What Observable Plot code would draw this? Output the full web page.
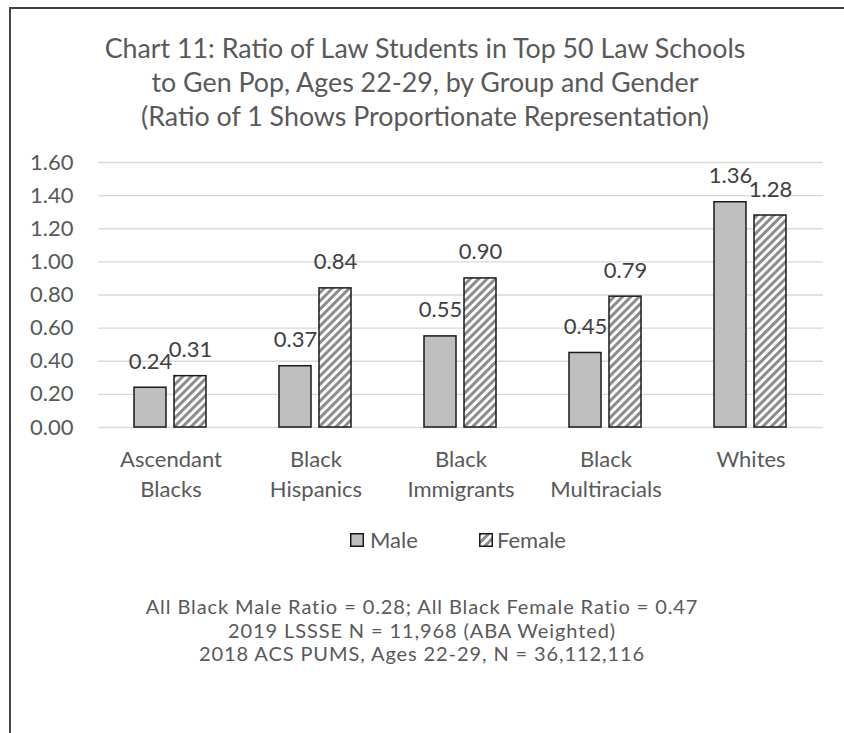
<!DOCTYPE html>
<html>
<head>
<meta charset="utf-8">
<script src="https://cdn.jsdelivr.net/npm/d3@7"></script>
<script src="https://cdn.jsdelivr.net/npm/@observablehq/plot@0.6"></script>
<style>
  html, body { margin: 0; padding: 0; background: #fff; }
  body { width: 844px; height: 733px; overflow: hidden; position: relative; font-family: Lato, "Open Sans", sans-serif; color: #595959; }
  #frame { position: absolute; left: 9px; top: 7px; width: 900px; height: 800px; border: 2px solid #444; box-sizing: border-box; }
  #title { position: absolute; left: 0; top: 30.5px; width: 850px; text-align: center; font-size: 26.8px; line-height: 34px; }
  #chart { position: absolute; left: 0; top: 140px; }
  .leg { position: absolute; font-size: 22px; line-height: 22px; }
  .sw { position: absolute; width: 14px; height: 14px; }
  #footer { position: absolute; left: 0; top: 595px; width: 844px; text-align: center; font-size: 20px; line-height: 23.5px; letter-spacing: 0.9px; }
</style>
</head>
<body>
<div id="frame"></div>
<div id="title">Chart 11: Ratio of Law Students in Top 50 Law Schools<br>to Gen Pop, Ages 22-29, by Group and Gender<br>(Ratio of 1 Shows Proportionate Representation)</div>
<div id="chart"></div>
<svg class="sw" style="left:350px;top:533px" viewBox="0 0 14 14"><rect x="0.75" y="0.75" width="12.5" height="12.5" fill="#bfbfbf" stroke="#1a1a1a" stroke-width="1.5"/></svg>
<div class="leg" style="left:370px;top:529px">Male</div>
<svg class="sw" style="left:479px;top:533px" viewBox="0 0 14 14"><rect x="0.75" y="0.75" width="12.5" height="12.5" fill="url(#hatch)" stroke="#1a1a1a" stroke-width="1.5"/></svg>
<div class="leg" style="left:497px;top:529px">Female</div>
<div id="footer">All Black Male Ratio = 0.28; All Black Female Ratio = 0.47<br>2019 LSSSE N = 11,968 (ABA Weighted)<br>2018 ACS PUMS, Ages 22-29, N = 36,112,116</div>
<script>
const categories = ["Ascendant Blacks", "Black Hispanics", "Black Immigrants", "Black Multiracials", "Whites"];
const categoryLabels = ["Ascendant\nBlacks", "Black\nHispanics", "Black\nImmigrants", "Black\nMultiracials", "Whites"];
const genders = ["Male", "Female"];
const maleValues = [0.24, 0.37, 0.55, 0.45, 1.36];
const femaleValues = [0.31, 0.84, 0.90, 0.79, 1.28];
const yTicks = [0, 0.2, 0.4, 0.6, 0.8, 1.0, 1.2, 1.4, 1.6];

const male = categories.map((c, i) => ({category: c, gender: "Male", value: maleValues[i]}));
const female = categories.map((c, i) => ({category: c, gender: "Female", value: femaleValues[i]}));
const all = male.concat(female);
const labelOf = new Map(categories.map((c, i) => [c, categoryLabels[i]]));

const chart = Plot.plot({
  width: 844,
  height: 380,
  marginLeft: 98,
  marginRight: 21,
  marginTop: 22,
  marginBottom: 93,
  style: {fontFamily: "Lato, 'Open Sans', sans-serif", fontSize: "22px", color: "#595959", background: "transparent", overflow: "visible"},
  fx: {domain: categories, padding: 0},
  x: {domain: genders, paddingInner: 0.195, paddingOuter: 0.873, axis: null},
  y: {domain: [0, 1.6], axis: null},
  marks: [
    Plot.ruleY(yTicks, {stroke: "#d9d9d9", strokeWidth: 1.3}),
    Plot.axisY(yTicks, {anchor: "left", tickSize: 0, tickPadding: 25, tickFormat: d3.format(".2f"), fontSize: 22, fill: "#595959", label: null}),
    Plot.axisFx({anchor: "bottom", tickSize: 0, tickPadding: 18, fontSize: 22, lineHeight: 1.36, fill: "#595959", label: null, tickFormat: d => labelOf.get(d)}),
    Plot.barY(male, {fx: "category", x: "gender", y: "value", fill: "#bfbfbf", stroke: "#1a1a1a", strokeWidth: 1.5}),
    Plot.barY(female, {fx: "category", x: "gender", y: "value", fill: "url(#hatch)", stroke: "#1a1a1a", strokeWidth: 1.5}),
    Plot.text(all, {fx: "category", x: "gender", y: "value", text: d => d3.format(".2f")(d.value), dy: -26, fontSize: 22, fill: "#404040"})
  ]
});

const ns = "http://www.w3.org/2000/svg";
const defs = document.createElementNS(ns, "defs");
const pat = document.createElementNS(ns, "pattern");
pat.setAttribute("id", "hatch");
pat.setAttribute("width", "5.9");
pat.setAttribute("height", "5.9");
pat.setAttribute("patternUnits", "userSpaceOnUse");
pat.setAttribute("patternTransform", "rotate(45)");
const bg = document.createElementNS(ns, "rect");
bg.setAttribute("width", "5.9"); bg.setAttribute("height", "5.9"); bg.setAttribute("fill", "#ffffff");
const st = document.createElementNS(ns, "rect");
st.setAttribute("width", "3"); st.setAttribute("height", "5.9"); st.setAttribute("fill", "#8c8c8c");
pat.appendChild(bg); pat.appendChild(st);
defs.appendChild(pat);
chart.prepend(defs);
document.getElementById("chart").appendChild(chart);
</script>
</body>
</html>
